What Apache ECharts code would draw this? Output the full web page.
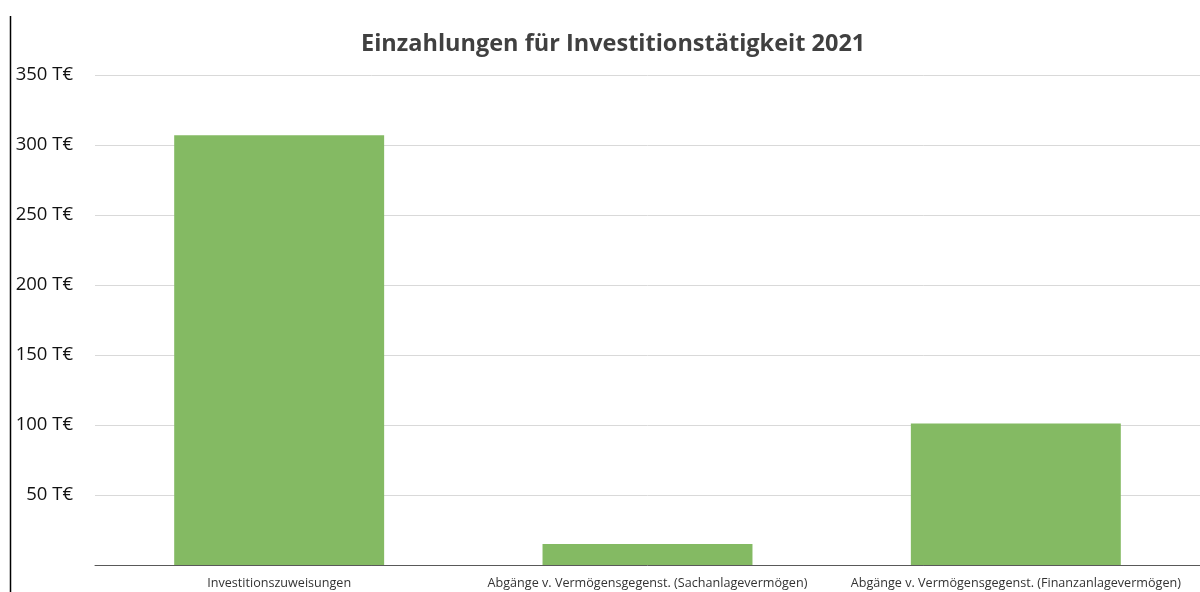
<!DOCTYPE html>
<html>
<head>
<meta charset="utf-8">
<script src="https://cdn.jsdelivr.net/npm/echarts@6/dist/echarts.min.js"></script>
<style>
  html, body { margin: 0; padding: 0; background: #fff; }
  #chart { width: 1200px; height: 592px; }
</style>
</head>
<body>
<div id="chart"></div>
<script>
var categories = [
  'Investitionszuweisungen',
  'Abgänge v. Vermögensgegenst. (Sachanlagevermögen)',
  'Abgänge v. Vermögensgegenst. (Finanzanlagevermögen)'
];
var values = [307, 15, 101];

var myChart = echarts.init(document.getElementById('chart'));

var option = {
  backgroundColor: '#fff',
  title: {
    text: 'Einzahlungen für Investitionstätigkeit 2021',
    left: 356,
    top: 27,
    textStyle: {
      fontFamily: 'Open Sans',
      fontWeight: 'bold',
      fontSize: 23.5,
      color: '#404040'
    }
  },
  graphic: [{
    type: 'line',
    shape: { x1: 10.5, y1: 16, x2: 10.5, y2: 592 },
    style: { stroke: '#000', lineWidth: 1.5 }
  }],
  grid: {
    left: 95,
    right: 0,
    top: 75,
    bottom: 27,
    containLabel: false
  },
  xAxis: {
    type: 'category',
    data: categories,
    axisLine: { lineStyle: { color: '#595959', width: 1 } },
    axisTick: { show: false },
    axisLabel: {
      interval: 0,
      margin: 12,
      fontFamily: 'Open Sans',
      fontSize: 12.6,
      color: '#333'
    }
  },
  yAxis: {
    type: 'value',
    min: 0,
    max: 350,
    interval: 50,
    axisLine: { show: false },
    axisTick: { show: false },
    splitLine: { lineStyle: { color: '#d9d9d9' } },
    axisLabel: {
      margin: 22,
      fontFamily: 'Open Sans',
      fontSize: 18.5,
      color: '#111',
      formatter: function (v) {
        return v === 0 ? '' : v + ' T€';
      }
    }
  },
  series: [{
    type: 'bar',
    data: values,
    barWidth: '57%',
    itemStyle: { color: '#84ba63' }
  }]
};

myChart.setOption(option);
</script>
</body>
</html>
